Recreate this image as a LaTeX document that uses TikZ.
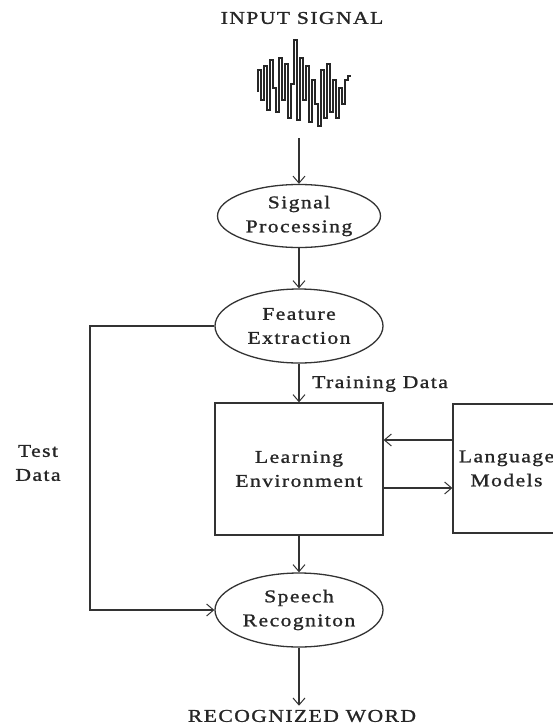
\documentclass[tikz,border=0pt]{standalone}
\usepackage{fontspec}
\usetikzlibrary{arrows.meta,shapes.geometric}
\newfontfamily\diagfont[FakeStretch=1.2,LetterSpace=8,FakeBold=1.2]{Liberation Serif}
\begin{document}
\begin{tikzpicture}[x=1pt,y=-1pt,
  line/.style={draw=black!80, line width=1.3pt},
  arr/.style={line, -{Straight Barb[length=7pt,width=12pt,line width=1pt]}},
  txt/.style={font=\diagfont\fontsize{18}{24}\selectfont, text=black!85, align=center, inner sep=0pt},
  oval/.style={ellipse, line, txt},
  panel/.style={rectangle, line, txt},
]
\useasboundingbox (0,0) rectangle (553,726);
\clip (0,0) rectangle (553,726);

% titles
\node[txt] (in) at (302,18) {INPUT SIGNAL};
\node[txt, inner sep=4pt] (rw) at (302,716) {RECOGNIZED WORD};

% input waveform
\draw[black!85, line width=1.3pt, line join=miter]
  (258,92) foreach \x/\y in {261/70, 264/100, 267/66, 270/110, 273/60, 276/88,
    279/112, 282/58, 285/100, 288/64, 291/118, 294/84, 297/40, 300/120, 303/58,
    306/100, 309/66, 312/122, 315/80, 318/104, 321/126, 324/70, 327/118, 330/64,
    333/112, 336/80, 339/118, 342/88, 345/104, 348/80, 351/76} { |- (\x,\y) };
\coordinate (wv) at (299,138);

% processing chain
\node[oval, minimum width=163pt, minimum height=63pt] (sig) at (299,216) {Signal\\Processing};
\node[oval, minimum width=168pt, minimum height=74pt] (fe) at (299,326) {Feature\\Extraction};
\node[panel, minimum width=168pt, minimum height=132pt] (le) at (299,469) {Learning\\Environment};
\node[panel, minimum width=107pt, minimum height=129pt] (lm) at (506.5,468.5) {Language\\Models};
\node[oval, minimum width=168pt, minimum height=74pt] (sp) at (299,610) {Speech\\Recogniton};

% side labels
\node[txt, anchor=west] (trl) at (312,384) {Training Data};
\node[txt] (tdl) at (38,463) {Test\\Data};

% connectors
\coordinate (tl) at (90,326);
\coordinate (ya) at (0,440);
\coordinate (yb) at (0,488);
\draw[arr] (wv) -- (sig.north);
\draw[arr] (sig.south) -- (fe.north);
\draw[arr] (fe.south) -- (le.north);
\draw[arr] (lm.west |- ya) -- (le.east |- ya);
\draw[arr] (le.east |- yb) -- (lm.west |- yb);
\draw[arr] (le.south) -- (sp.north);
\draw[arr] (fe.west) -- (tl) |- (sp.west);
\draw[arr] (sp.south) -- (sp.south |- rw.north);
\end{tikzpicture}
\end{document}
